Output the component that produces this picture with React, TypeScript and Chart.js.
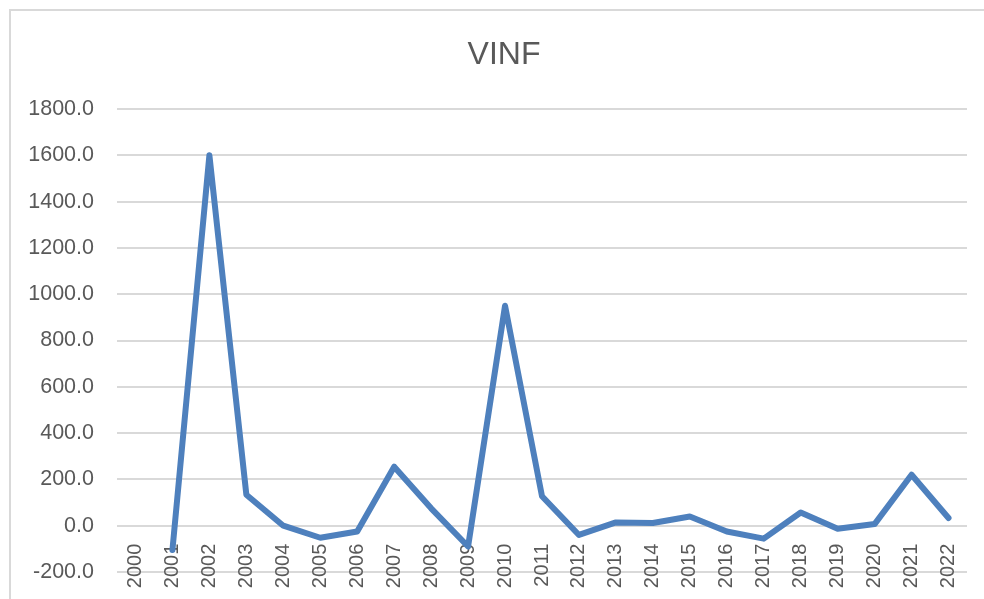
import React, { useEffect, useRef } from "react";
import { Chart, registerables } from "chart.js";

Chart.register(...registerables);

const chartTitle = "VINF";
const years = [
  "2000", "2001", "2002", "2003", "2004", "2005", "2006", "2007", "2008", "2009", "2010", "2011",
  "2012", "2013", "2014", "2015", "2016", "2017", "2018", "2019", "2020", "2021", "2022",
];
const vinf: (number | null)[] = [
  null, -105, 1600, 134, 0, -52, -25, 255, 75, -90, 950, 127,
  -40, 14, 12, 40, -25, -56, 57, -13, 7, 220, 33,
];
const yMin = -200;
const yMax = 1800;
const yStep = 200;

const FONT = "'Liberation Sans', Arial, sans-serif";
const TEXT = "#595959";
const GRID = "#D9D9D9";
const LINE = "#4E80BD";

const PAD_L = 24;
const PAD_R = 0;
const AREA_LEFT = 117;
const AREA_RIGHT = 967;

const zeroPad = (s: any) => {
  s.paddingTop = 0;
  s.paddingBottom = 0;
  s.paddingLeft = 0;
  s.paddingRight = 0;
};

export default function App() {
  const ref = useRef<HTMLCanvasElement | null>(null);

  useEffect(() => {
    if (!ref.current) return;
    const chart = new Chart(ref.current, {
      type: "line",
      data: {
        labels: years,
        datasets: [
          {
            label: chartTitle,
            data: vinf,
            borderColor: LINE,
            backgroundColor: LINE,
            borderWidth: 6,
            pointRadius: 0,
            pointHoverRadius: 0,
            borderJoinStyle: "round",
            borderCapStyle: "round",
            tension: 0,
            spanGaps: false,
            yAxisID: "y",
          },
        ],
      },
      options: {
        responsive: false,
        animation: false,
        layout: { padding: { left: PAD_L, right: PAD_R, top: 0, bottom: 27 } },
        plugins: {
          legend: { display: false },
          tooltip: { enabled: false },
          title: {
            display: true,
            text: chartTitle,
            color: TEXT,
            font: { family: FONT, size: 32, weight: "normal", lineHeight: 1.2 },
            padding: { top: 36, bottom: 34.6 },
          },
        },
        scales: {
          x: {
            type: "category",
            position: { y: 0 } as any,
            offset: true,
            afterFit: zeroPad,
            grid: { display: false, drawTicks: false },
            border: { display: false },
            ticks: {
              color: TEXT,
              font: { family: FONT, size: 20 },
              minRotation: 90,
              maxRotation: 90,
              autoSkip: false,
              padding: 18,
            },
          },
          y: {
            type: "linear",
            position: "left",
            min: yMin,
            max: yMax,
            afterFit: (s: any) => {
              zeroPad(s);
              s.width = AREA_LEFT - PAD_L;
            },
            ticks: {
              stepSize: yStep,
              color: TEXT,
              font: { family: FONT, size: 21.5 },
              padding: 23,
              callback: (v: any) => Number(v).toFixed(1),
            },
            grid: { color: GRID, lineWidth: 2, drawTicks: false },
            border: { display: false },
          },
          yRight: {
            type: "linear",
            position: "right",
            min: yMin,
            max: yMax,
            afterFit: (s: any) => {
              zeroPad(s);
              s.width = 984 - PAD_R - AREA_RIGHT;
            },
            ticks: { display: false },
            grid: { display: false, drawTicks: false },
            border: { display: false },
          },
        },
      },
    });
    return () => chart.destroy();
  }, []);

  return (
    <div
      style={{
        position: "fixed",
        left: 0,
        top: 0,
        width: 984,
        height: 599,
        overflow: "hidden",
        background: "#fff",
      }}
    >
      <div
        style={{
          position: "absolute",
          left: 9,
          top: 9,
          width: 1000,
          height: 650,
          border: "2px solid #D9D9D9",
          boxSizing: "border-box",
        }}
      />
      <canvas
        ref={ref}
        width={984}
        height={599}
        style={{ position: "absolute", left: 0, top: 0, width: 984, height: 599 }}
      />
    </div>
  );
}
